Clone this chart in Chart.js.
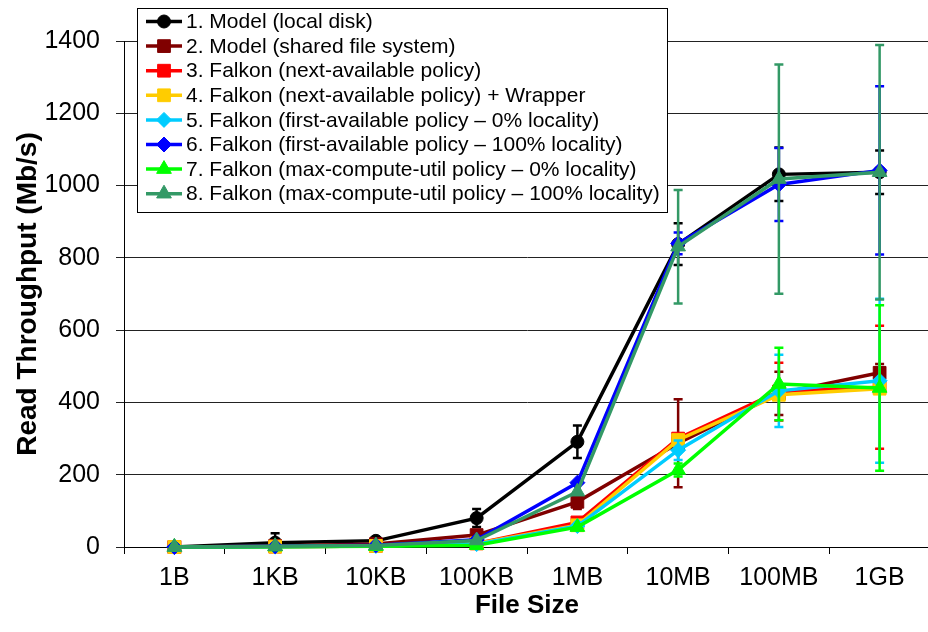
<!DOCTYPE html>
<html><head><meta charset="utf-8">
<script src="https://cdn.jsdelivr.net/npm/chart.js@4/dist/chart.umd.min.js"></script>
<style>html,body{margin:0;padding:0;background:#fff;overflow:hidden;}#wrap{width:940px;height:632px;position:relative;}</style>
</head><body><div id="wrap"><canvas id="c" width="940" height="632"></canvas></div>
<script>
// ---------- data ----------
const categories = ['1B','1KB','10KB','100KB','1MB','10MB','100MB','1GB'];
const seriesNames = [
  '1. Model (local disk)',
  '2. Model (shared file system)',
  '3. Falkon (next-available policy)',
  '4. Falkon (next-available policy) + Wrapper',
  '5. Falkon (first-available policy \u2013 0% locality)',
  '6. Falkon (first-available policy \u2013 100% locality)',
  '7. Falkon (max-compute-util policy \u2013 0% locality)',
  '8. Falkon (max-compute-util policy \u2013 100% locality)'
];
const modelLocal      = [0, 12, 17, 80, 291, 838, 1031, 1037];
const modelShared     = [0, 3, 8, 33, 125, 287, 425, 482];
const nextAvail       = [0, 1, 3, 10, 68, 300, 430, 442];
const nextAvailWrap   = [0, 1, 3, 10, 60, 296, 421, 438];
const firstAvail0     = [0, 1, 3, 8, 58, 268, 432, 460];
const firstAvail100   = [0, 2, 5, 20, 178, 840, 1003, 1042];
const maxCompute0     = [0, 1, 2, 5, 55, 213, 451, 440];
const maxCompute100   = [0, 2, 4, 18, 153, 831, 1018, 1037];

const errModelLocal    = [0, 26, 0, 25, 45, 58, 74, 60];
const errModelShared   = [0, 0, 0, 0, 20, 122, 60, 24];
const errNextAvail     = [0, 0, 0, 0, 0, 0, 80, 170];
const errNextAvailWrap = [0, 0, 0, 0, 0, 0, 0, 0];
const errFirstAvail0   = [0, 0, 0, 0, 0, 27, 100, 227];
const errFirstAvail100 = [0, 0, 0, 0, 0, 30, 101, 233];
const errMaxCompute0   = [0, 0, 0, 0, 0, 18, 100, 229];
const errMaxCompute100 = [0, 0, 0, 0, 0, 157, 317, 352];

const yTitle = 'Read Throughput (Mb/s)';
const xTitle = 'File Size';

// ---------- styling ----------
const values = [modelLocal, modelShared, nextAvail, nextAvailWrap, firstAvail0, firstAvail100, maxCompute0, maxCompute100];
const errors = [errModelLocal, errModelShared, errNextAvail, errNextAvailWrap, errFirstAvail0, errFirstAvail100, errMaxCompute0, errMaxCompute100];
const colors = ['#000000','#800000','#FF0000','#FFCC00','#00CCFF','#0000FF','#00FF00','#339966'];
const styles = ['circle','rect','rect','rect','rectRot','rectRot','triangle','triangle'];
const radii  = [6.5, 9, 9, 9, 7.5, 7.5, 8.5, 8.5];

const FONT = '"Liberation Sans", Arial, sans-serif';

const datasets = values.map((v, i) => ({
  label: seriesNames[i],
  data: v,
  errors: errors[i],
  borderColor: colors[i],
  backgroundColor: colors[i],
  pointBackgroundColor: colors[i],
  pointBorderColor: colors[i],
  pointStyle: styles[i],
  pointRadius: radii[i],
  pointBorderWidth: 1,
  borderWidth: 3.5,
  tension: 0,
  clip: false,
  order: values.length - 1 - i
}));

const errorBarPlugin = {
  id: 'errorBars',
  beforeDatasetDraw(chart, args) {
    const ds = chart.data.datasets[args.index];
    const err = ds.errors;
    if (!err) return;
    const xs = chart.scales.x, ys = chart.scales.y, ctx = chart.ctx;
    ctx.save();
    ctx.strokeStyle = ds.borderColor;
    err.forEach((e, j) => {
      if (!e) return;
      const x = xs.getPixelForValue(j);
      const y1 = ys.getPixelForValue(ds.data[j] + e);
      const y2 = ys.getPixelForValue(Math.max(0, ds.data[j] - e));
      ctx.lineWidth = 2.5;
      ctx.beginPath(); ctx.moveTo(x, y1); ctx.lineTo(x, y2); ctx.stroke();
      ctx.beginPath();
      ctx.moveTo(x - 4.5, y1); ctx.lineTo(x + 4.5, y1);
      ctx.moveTo(x - 4.5, y2); ctx.lineTo(x + 4.5, y2);
      ctx.stroke();
    });
    ctx.restore();
  }
};

const legendPlugin = {
  id: 'boxLegend',
  afterDraw(chart) {
    const ctx = chart.ctx;
    const bx = 137.5, by = 8.5, bw = 530, bh = 204;
    ctx.save();
    ctx.fillStyle = '#fff';
    ctx.fillRect(bx, by, bw, bh);
    ctx.strokeStyle = '#000';
    ctx.lineWidth = 1;
    ctx.strokeRect(bx, by, bw, bh);
    ctx.font = '21px ' + FONT;
    ctx.textBaseline = 'middle';
    ctx.textAlign = 'left';
    chart.data.datasets.forEach((ds, i) => {
      const y = 21.5 + i * 24.6;
      ctx.strokeStyle = ds.borderColor;
      ctx.lineWidth = 3.5;
      ctx.beginPath(); ctx.moveTo(146, y); ctx.lineTo(182, y); ctx.stroke();
      ctx.fillStyle = ds.backgroundColor;
      ctx.strokeStyle = ds.borderColor;
      ctx.lineWidth = 1;
      Chart.helpers.drawPoint(ctx, {pointStyle: ds.pointStyle, radius: ds.pointRadius, rotation: 0, borderWidth: 1}, 164, y);
      ctx.fillStyle = '#000';
      ctx.fillText(ds.label, 186, y + 1);
    });
    ctx.restore();
  }
};

Chart.defaults.color = '#000';
Chart.defaults.font.family = FONT;

new Chart(document.getElementById('c'), {
  type: 'line',
  data: { labels: categories, datasets },
  plugins: [errorBarPlugin, legendPlugin],
  options: {
    responsive: false,
    animation: false,
    layout: { padding: { top: 41, right: 3, bottom: 0, left: 0 } },
    plugins: { legend: { display: false }, tooltip: { enabled: false } },
    scales: {
      x: {
        type: 'category',
        offset: true,
        grid: { display: true, drawOnChartArea: false, drawTicks: true, tickLength: 7, offset: true, color: '#000', lineWidth: 1 },
        border: { display: true, color: '#000', width: 1 },
        ticks: { font: { size: 25 }, padding: 9, maxRotation: 0, autoSkip: false },
        title: { display: true, text: xTitle, font: { size: 26, weight: 'bold' }, padding: { top: 0, bottom: 11 } },
        afterFit(s) { s.height = 85; }
      },
      y: {
        min: 0, max: 1400,
        ticks: { stepSize: 200, font: { size: 25 }, padding: 16, callback: (v) => String(v) },
        grid: { color: '#222', lineWidth: 1, drawTicks: true, tickLength: 8 },
        border: { display: true, color: '#000', width: 1 },
        title: { display: true, text: yTitle, font: { size: 28, weight: 'bold' }, padding: { top: 11, bottom: 0 } },
        afterFit(s) { s.width = 124; }
      }
    }
  }
});
</script>
</body></html>
